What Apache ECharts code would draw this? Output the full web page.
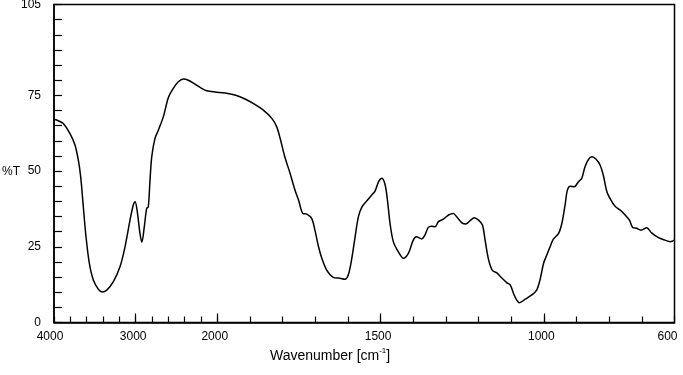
<!DOCTYPE html>
<html>
<head>
<meta charset="utf-8">
<script src="https://cdn.jsdelivr.net/npm/echarts@6/dist/echarts.min.js"></script>
<style>
  html, body { margin: 0; padding: 0; background: #fff; }
  #irChart { width: 683px; height: 375px; }
</style>
</head>
<body>
<div id="irChart"></div>
<script>
// spectrum: wavenumber [cm-1] and transmittance [%T]
var wavenumbers = [
  4000, 3947, 3886, 3804, 3743, 3702, 3673, 3641, 3608, 3567, 3518, 3457, 3408, 3354, 3273, 3192, 3130,
  3069, 3029, 3006, 2980, 2947, 2924, 2894, 2865, 2845, 2824, 2803, 2763, 2722, 2661, 2600, 2539,
  2477, 2416, 2355, 2273, 2191, 2130, 2028, 1976, 1946, 1915, 1885, 1859, 1833, 1818, 1808, 1794,
  1777, 1762, 1751, 1738, 1726, 1711, 1701, 1690, 1680, 1665, 1645, 1624, 1609, 1599, 1589, 1578,
  1568, 1557, 1542, 1527, 1517, 1506, 1496, 1486, 1479, 1471, 1461, 1446, 1430, 1415, 1400, 1390,
  1374, 1364, 1354, 1344, 1333, 1323, 1308, 1292, 1277, 1267, 1251, 1239, 1226, 1213, 1200, 1188,
  1180, 1169, 1157, 1144, 1128, 1113, 1103, 1093, 1083, 1075, 1057, 1037, 1022, 1012, 1001, 991,
  981, 971, 955, 945, 935, 928, 919, 907, 894, 884, 874, 863, 853, 840, 828, 818,
  807, 795, 782, 766, 751, 738, 728, 716, 703, 685, 670, 649, 629, 613, 600
];
var transmittance = [
  67.1, 66.6, 65.7, 62.4, 58.6, 53.6, 48.1, 38.2, 28.3, 19.5, 14.0, 11.0, 10.1, 10.7, 13.5, 18.4, 25.0,
  33.8, 38.8, 39.9, 36.6, 29.4, 26.5, 31.6, 37.7, 38.2, 47.0, 54.7, 60.8, 63.5, 67.9, 74.2, 77.3,
  79.5, 80.4, 80.0, 78.7, 77.3, 76.5, 76.1, 75.8, 75.1, 73.8, 72.0, 70.1, 67.4, 64.6, 61.0, 55.0,
  49.2, 43.7, 40.4, 36.0, 35.8, 34.4, 30.5, 25.0, 21.2, 17.3, 14.9, 14.6, 14.3, 15.7, 20.6, 28.3,
  34.9, 38.2, 40.2, 42.1, 43.4, 46.5, 47.6, 45.4, 40.4, 32.7, 26.7, 23.4, 21.2, 22.8, 27.2, 28.3,
  27.6, 28.9, 31.4, 31.8, 31.6, 33.3, 34.1, 35.5, 36.0, 34.9, 32.9, 32.5, 33.6, 34.6, 33.8, 32.2,
  27.2, 20.6, 17.1, 16.4, 14.6, 13.1, 12.4, 9.6, 7.4, 6.5, 7.7, 9.1, 10.7, 14.0, 19.5, 22.3,
  25.0, 27.5, 29.4, 32.7, 38.8, 43.7, 45.0, 44.8, 46.5, 47.6, 51.4, 53.9, 54.7, 53.9, 52.0, 48.6,
  43.2, 40.5, 38.4, 37.1, 35.5, 33.8, 31.4, 31.1, 30.5, 31.3, 29.6, 28.0, 27.2, 26.7, 27.2
];
// axis ticks and labels (wavenumbers)
var minorTicks = [4000, 3800, 3600, 3400, 3200, 3000, 2800, 2600, 2400, 2200, 2000,
  1900, 1800, 1700, 1600, 1500, 1400, 1300, 1200, 1100, 1000, 900, 800, 700, 600];
var majorTicks = [3000, 2000, 1500, 1000];
var xLabels = [4000, 3000, 2000, 1500, 1000, 600];
var yLabels = [0, 25, 50, 75, 105];

// the axis is compressed 4:1 above 2000 cm-1
function toU(w) {
  return w >= 2000 ? (4000 - w) / 4 : 500 + (2000 - w);
}
function fromU(u) {
  return u <= 500 ? 4000 - u * 4 : 2000 - (u - 500);
}

var points = wavenumbers.map(function (w, i) { return [toU(w), transmittance[i]]; });

var font = "'Liberation Sans', Arial, sans-serif";
var chart = echarts.init(document.getElementById('irChart'));
chart.setOption({
  animation: false,
  textStyle: { fontFamily: font },
  title: [{
    text: '{a|Wavenumber [cm}{s|-1}{a|]}',
    left: 270,
    top: 347,
    padding: 0,
    textStyle: {
      fontWeight: 'normal',
      rich: {
        a: { fontSize: 14, color: '#000', fontFamily: font, fontWeight: 'normal', lineHeight: 16, verticalAlign: 'bottom' },
        s: { fontSize: 8, color: '#000', fontFamily: font, fontWeight: 'normal', lineHeight: 16, verticalAlign: 'top' }
      }
    }
  }, {
    // y axis name sits level with the 50 label
    text: '%T',
    left: 2,
    top: 165,
    padding: 0,
    textStyle: { fontSize: 12, fontWeight: 'normal', color: '#000', fontFamily: font, lineHeight: 14 }
  }],
  grid: {
    left: 54, right: 8.5, top: 4.5, bottom: 52.5,
    outerBoundsMode: 'none',
    show: true, borderColor: '#000', borderWidth: 1.5
  },
  xAxis: [{
    type: 'value', min: 0, max: 1900,
    axisLine: { lineStyle: { color: '#000', width: 1.5 } },
    axisTick: { inside: true, length: 6, lineStyle: { color: '#000', width: 1.2 },
      customValues: minorTicks.map(toU) },
    axisLabel: {
      color: '#000', fontSize: 12, margin: 8, customValues: xLabels.map(toU),
      formatter: function (u) {
        var w = Math.round(fromU(u));
        if (w === 600) return '{end|600}';
        if (w === 4000) return '{start|4000}';
        return '{mid|' + w + '}';
      },
      rich: {
        start: { fontSize: 12, color: '#000', fontFamily: font, padding: [0, 8, 0, 0] },
        mid: { fontSize: 12, color: '#000', fontFamily: font, padding: [0, 5, 0, 0] },
        end: { fontSize: 12, color: '#000', fontFamily: font, padding: [0, 14, 0, 0] }
      }
    },
    splitLine: { show: false }
  }, {
    type: 'value', min: 0, max: 1900, position: 'bottom',
    axisLine: { show: false },
    axisTick: { inside: true, length: 9, lineStyle: { color: '#000', width: 1.2 },
      customValues: majorTicks.map(toU) },
    axisLabel: { show: false },
    splitLine: { show: false }
  }],
  yAxis: {
    type: 'value', min: 0, max: 105, interval: 5,
    axisLine: { lineStyle: { color: '#000', width: 1.5 } },
    axisTick: { inside: true, length: 8, lineStyle: { color: '#000', width: 1.2 } },
    axisLabel: { color: '#000', fontSize: 12, margin: 13, customValues: yLabels },
    splitLine: { show: false }
  },
  series: [{
    type: 'line',
    xAxisIndex: 0,
    data: points,
    showSymbol: false,
    smooth: 0.3,
    lineStyle: { color: '#000', width: 1.5 }
  }]
});
</script>
</body>
</html>
